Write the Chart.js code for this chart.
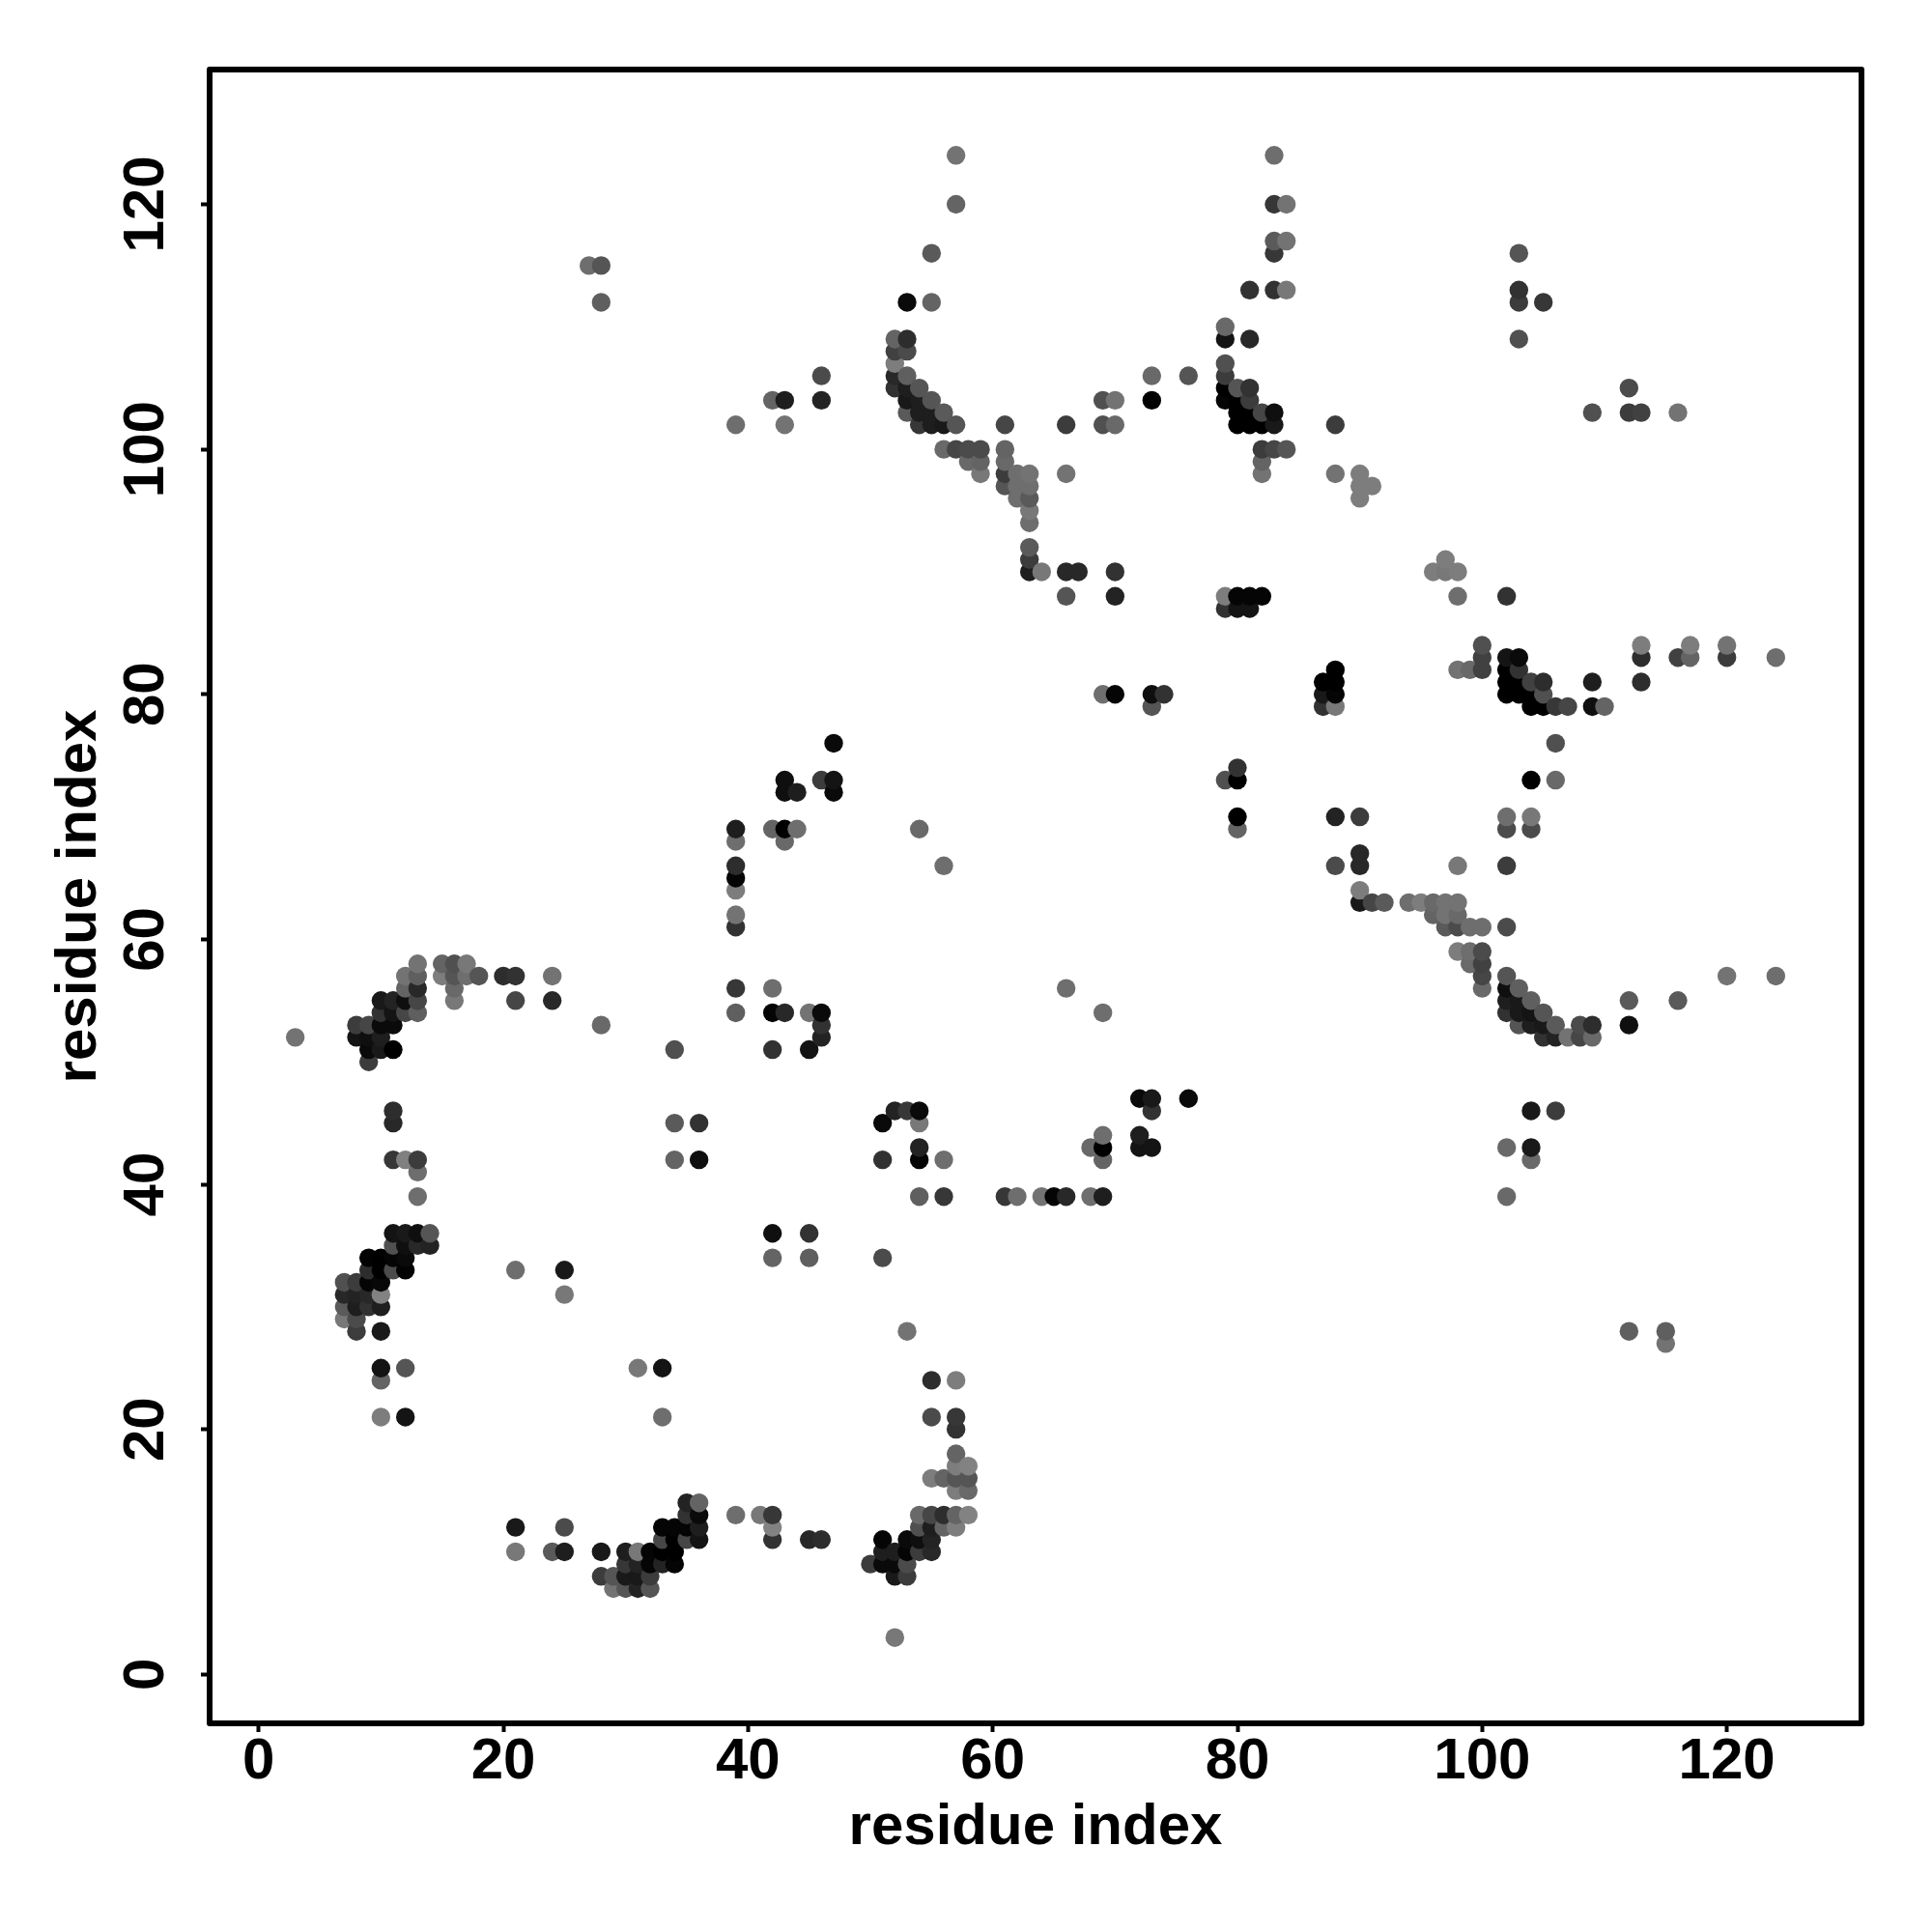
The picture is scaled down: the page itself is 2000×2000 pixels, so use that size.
<!DOCTYPE html>
<html>
<head>
<meta charset="utf-8">
<title>residue contact map</title>
<script src="https://cdn.jsdelivr.net/npm/chart.js@4"></script>
<style>
  html, body { margin: 0; padding: 0; background: #fff; }
  canvas { display: block; }
</style>
</head>
<body>
<canvas id="contactMap" width="2000" height="2000"></canvas>
<script>
const axisLabel = 'residue index';
const tickValues = [0, 20, 40, 60, 80, 100, 120];

// y residue of each row of the map
const rowValues = [
  124, 120, 117, 116, 115, 113, 112, 110, 109, 108, 107, 106, 105, 104, 103, 102,
  100, 99, 98, 97, 96, 95, 94, 92, 91, 90, 88, 87, 84, 83, 82, 81, 80, 79,
  76, 74, 73, 72, 70, 69, 68, 67, 66, 65, 64, 63, 62, 61, 59, 58, 57, 56, 55, 54, 53, 52, 51, 50,
  47, 46, 45, 44, 43, 42, 41, 39, 36, 35, 34, 33, 32, 31, 30, 29, 28, 27, 25, 24, 21, 20,
  18, 17, 16, 15, 14, 13, 12, 11, 10, 9, 8, 7, 3
];

// x residues per row, same order as rowValues
const rowResidues = [
  [57, 83],
  [57, 83, 84],
  [83, 84],
  [55, 83, 103],
  [27, 28],
  [81, 83, 84, 103],
  [28, 53, 55, 103, 105],
  [79],
  [52, 53, 79, 81, 103],
  [52, 53],
  [52, 79],
  [46, 52, 53, 73, 76, 79],
  [52, 53, 54, 79, 80, 81, 112],
  [42, 43, 46, 53, 54, 55, 69, 70, 73, 79, 80, 81],
  [53, 54, 55, 56, 80, 81, 82, 83, 109, 112, 113, 116],
  [39, 43, 54, 55, 56, 57, 61, 66, 69, 70, 80, 81, 82, 83, 88],
  [56, 57, 58, 59, 61, 82, 83, 84],
  [58, 59, 61, 82],
  [59, 61, 62, 63, 66, 82, 88, 90],
  [61, 62, 63, 90, 91],
  [62, 63, 90],
  [63],
  [63],
  [63],
  [63, 97],
  [63, 64, 66, 67, 70, 96, 97, 98],
  [66, 70, 79, 80, 81, 82, 98, 102],
  [79, 80, 81],
  [100, 113, 117, 120],
  [100, 102, 103, 113, 116, 117, 120, 124],
  [88, 98, 99, 100, 102, 103],
  [87, 88, 102, 103, 104, 105, 109, 113],
  [69, 70, 73, 74, 87, 88, 102, 103, 104, 105],
  [73, 87, 88, 104, 105, 106, 107, 109, 110],
  [47, 106],
  [80],
  [43, 46, 47, 79, 80, 104, 106],
  [43, 44, 47],
  [80, 88, 90, 102, 104],
  [39, 42, 43, 44, 54, 80, 102, 104],
  [39, 43],
  [90],
  [39, 56, 88, 90, 98, 102],
  [39],
  [39, 90],
  [90, 91, 92, 94, 95, 96, 97, 98],
  [39, 96, 97, 98],
  [39, 97, 98, 99, 100, 102],
  [98, 99, 100],
  [13, 15, 16, 17, 99, 100],
  [12, 13, 15, 16, 17, 18, 20, 21, 24, 100, 102, 120, 124],
  [12, 13, 16, 39, 42, 66, 100, 102, 103],
  [10, 11, 12, 13, 16, 21, 24, 102, 103, 104, 112, 116],
  [10, 11, 12, 13, 39, 42, 43, 45, 46, 69, 102, 103, 104, 105],
  [8, 9, 10, 11, 28, 46, 103, 104, 105, 106, 108, 109, 112],
  [3, 8, 9, 10, 46, 105, 106, 107, 108, 109],
  [9, 10, 11, 34, 42, 45],
  [9],
  [72, 73, 76],
  [11, 52, 53, 54, 73, 104, 106],
  [11, 34, 36, 51, 54],
  [69, 72],
  [54, 68, 69, 72, 73, 102, 104],
  [11, 12, 13, 34, 36, 51, 54, 56, 69, 104],
  [13],
  [13, 54, 56, 61, 62, 64, 65, 66, 68, 69, 102],
  [11, 12, 13, 14, 42, 45],
  [11, 12, 13, 14],
  [9, 10, 11, 12, 42, 45, 51],
  [9, 10, 11, 12, 21, 25],
  [7, 8, 9, 10],
  [7, 8, 9, 10, 25],
  [7, 8, 9, 10],
  [7, 8],
  [8, 10, 53, 112, 115],
  [115],
  [10, 12, 31, 33],
  [10, 55, 57],
  [10, 12, 33, 55, 57],
  [57],
  [57],
  [57, 58],
  [55, 56, 57, 58],
  [57, 58],
  [35, 36],
  [35, 36, 39, 41, 42, 54, 55, 56, 57, 58],
  [21, 25, 33, 34, 35, 36, 42, 54, 55, 56, 57],
  [33, 34, 35, 36, 42, 45, 46, 51, 53, 54, 55],
  [21, 24, 25, 28, 30, 31, 32, 33, 34, 51, 52, 53, 54, 55],
  [30, 31, 32, 33, 34, 50, 51, 52, 53],
  [28, 29, 30, 31, 32, 52, 53],
  [29, 30, 31, 32],
  [52]
];

// grey level (0-255) of each point, same shape as rowResidues
const rowShades = [
  [115, 110],
  [100, 55, 115],
  [90, 115],
  [90, 55, 85],
  [110, 85],
  [50, 50, 120, 50],
  [95, 10, 100, 60, 55],
  [105],
  [100, 45, 20, 40, 80],
  [65, 75],
  [125, 80],
  [75, 40, 95, 105, 85, 60],
  [50, 30, 85, 0, 85, 50, 75],
  [100, 30, 35, 25, 30, 85, 80, 115, 0, 5, 0, 60],
  [90, 30, 30, 90, 0, 0, 70, 15, 80, 60, 65, 115],
  [110, 115, 55, 30, 25, 85, 70, 60, 80, 105, 0, 0, 0, 25, 60],
  [105, 70, 75, 75, 100, 60, 70, 85],
  [105, 100, 105, 100],
  [120, 60, 110, 115, 115, 115, 115, 125],
  [85, 110, 110, 125, 125],
  [110, 90, 125],
  [120],
  [110],
  [90],
  [60, 125],
  [30, 120, 40, 40, 50, 125, 120, 125],
  [85, 35, 125, 5, 5, 5, 110, 50],
  [50, 20, 20],
  [80, 125, 125, 115],
  [65, 20, 10, 45, 65, 100, 60, 110],
  [0, 115, 105, 65, 0, 50],
  [0, 0, 0, 0, 65, 45, 30, 45],
  [110, 5, 15, 50, 25, 5, 0, 0, 0, 80],
  [85, 50, 120, 0, 0, 55, 70, 15, 100],
  [10, 80],
  [50],
  [15, 60, 20, 80, 0, 0, 105],
  [15, 30, 10],
  [0, 35, 60, 110, 120],
  [30, 100, 0, 110, 105, 100, 75, 75],
  [110, 105],
  [40],
  [45, 110, 75, 40, 120, 60],
  [5],
  [125, 125],
  [25, 70, 90, 110, 125, 105, 115, 115],
  [115, 100, 115, 105],
  [50, 90, 75, 110, 110, 75],
  [125, 110, 75],
  [115, 100, 80, 120, 105, 65],
  [115, 95, 125, 85, 110, 85, 45, 50, 115, 70, 85, 115, 110],
  [100, 40, 105, 55, 110, 110, 105, 15, 95],
  [25, 35, 15, 70, 120, 70, 40, 30, 25, 95, 90, 90],
  [50, 20, 70, 95, 95, 5, 40, 115, 10, 110, 50, 25, 20, 85],
  [60, 70, 10, 10, 105, 50, 85, 30, 25, 90, 75, 45, 15],
  [115, 20, 15, 30, 35, 50, 35, 115, 70, 105],
  [10, 25, 0, 80, 50, 20],
  [60],
  [10, 25, 10],
  [45, 35, 55, 10, 50, 25, 60],
  [40, 90, 50, 10, 120],
  [110, 30],
  [35, 105, 0, 20, 20, 105, 25],
  [55, 128, 60, 100, 15, 50, 5, 110, 100, 105],
  [110],
  [110, 95, 55, 55, 110, 115, 5, 40, 110, 30, 105],
  [20, 25, 15, 85, 15, 50],
  [80, 15, 40, 35],
  [3, 0, 5, 10, 100, 95, 75],
  [45, 0, 75, 3, 110, 25],
  [80, 60, 5, 8],
  [40, 35, 40, 130, 120],
  [90, 30, 50, 30],
  [120, 75],
  [60, 25, 115, 95, 95],
  [115],
  [20, 85, 120, 20],
  [100, 45, 125],
  [125, 20, 110, 75, 55],
  [50],
  [100],
  [125, 130],
  [125, 100, 85, 85],
  [125, 105],
  [35, 100],
  [50, 10, 110, 120, 55, 105, 70, 45, 100, 130],
  [25, 75, 5, 5, 5, 30, 130, 80, 30, 100, 125],
  [70, 0, 70, 20, 50, 40, 45, 5, 10, 15, 35],
  [120, 90, 30, 25, 30, 120, 5, 0, 0, 30, 30, 5, 60, 40],
  [55, 35, 5, 35, 5, 60, 10, 10, 75],
  [60, 85, 25, 25, 60, 25, 60],
  [115, 85, 35, 85],
  [120]
];

// flatten rows, later points paint over earlier ones: x ascending, then y ascending
const contacts = [];
rowValues.forEach((y, r) => {
  rowResidues[r].forEach((x, c) => contacts.push({ x, y, shade: rowShades[r][c] }));
});
contacts.sort((a, b) => a.x - b.x || a.y - b.y);

const labelFont = { family: '"Liberation Sans", Arial, sans-serif', size: 60, weight: 'bold' };

// R style box around the plot
const boxFrame = {
  id: 'boxFrame',
  afterDraw(chart) {
    const { ctx, chartArea: a } = chart;
    ctx.save();
    ctx.strokeStyle = '#000';
    ctx.lineWidth = 6;
    ctx.lineJoin = 'round';
    ctx.strokeRect(a.left, a.top, a.right - a.left, a.bottom - a.top);
    ctx.restore();
  }
};

function commonAxis(titlePadding, tickOpts) {
  return {
    type: 'linear',
    min: -4,
    max: 131,
    afterBuildTicks: (scale) => { scale.ticks = tickValues.map(value => ({ value })); },
    border: { display: false },
    grid: { display: true, drawOnChartArea: false, drawTicks: true, tickLength: 9, tickWidth: 4, tickColor: '#000' },
    ticks: Object.assign({ color: '#000', font: labelFont, autoSkip: false, callback: v => String(v) }, tickOpts),
    title: { display: true, text: axisLabel, color: '#000', font: labelFont, padding: titlePadding }
  };
}

const xAxis = commonAxis({ top: 0, bottom: 72 }, { padding: -5, maxRotation: 0 });
xAxis.afterFit = (scale) => { scale.height = 216; };

const yAxis = commonAxis({ top: 46, bottom: 0 }, { padding: 5, minRotation: 90, maxRotation: 90, crossAlign: 'center' });
yAxis.afterFit = (scale) => { scale.width = 217; };

new Chart(document.getElementById('contactMap').getContext('2d'), {
  type: 'scatter',
  data: {
    datasets: [{
      label: 'contacts',
      data: contacts.map(p => ({ x: p.x, y: p.y })),
      pointRadius: 9.7,
      pointHoverRadius: 9.7,
      pointBorderWidth: 0,
      pointBackgroundColor: contacts.map(p => `rgb(${p.shade},${p.shade},${p.shade})`)
    }]
  },
  options: {
    responsive: false,
    animation: false,
    devicePixelRatio: 1,
    layout: { padding: { top: 72, right: 73, left: 0, bottom: 0 } },
    plugins: { legend: { display: false }, tooltip: { enabled: false } },
    scales: { x: xAxis, y: yAxis }
  },
  plugins: [boxFrame]
});
</script>
</body>
</html>
